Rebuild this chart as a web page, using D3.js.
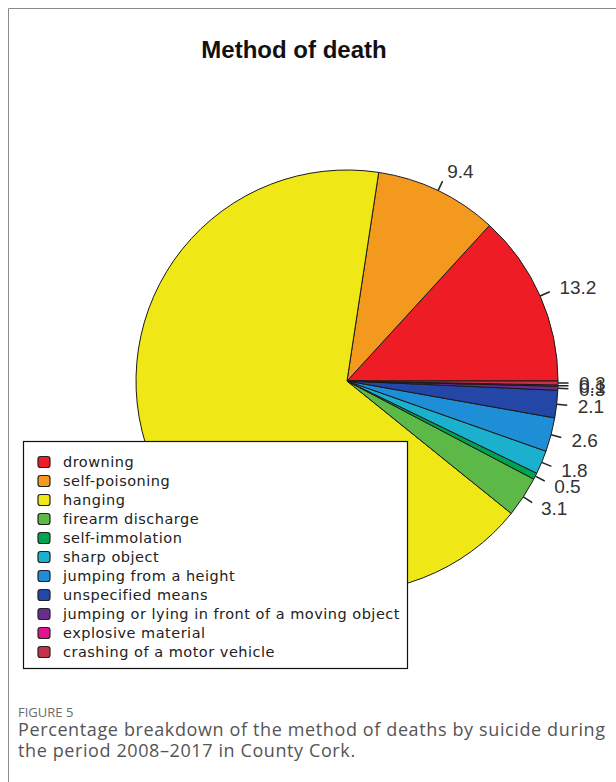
<!DOCTYPE html>
<html>
<head>
<meta charset="utf-8">
<script src="https://cdn.jsdelivr.net/npm/d3@7"></script>
<style>
  body { margin: 0; background: #fff; }
  svg { display: block; }
</style>
</head>
<body>
<svg></svg>
<script>
// slices in drawing order (counter-clockwise from 3 o'clock, like R's pie)
var methods = [
  "drowning",
  "self-poisoning",
  "hanging",
  "firearm discharge",
  "self-immolation",
  "sharp object",
  "jumping from a height",
  "unspecified means",
  "jumping or lying in front of a moving object",
  "explosive material",
  "crashing of a motor vehicle"
];
var percents = [13.2, 9.4, 66.6, 3.1, 0.5, 1.8, 2.6, 2.1, 0.3, 0.1, 0.3];
var colours = [
  "#ee1c25", "#f39a1e", "#f0e716", "#5db947", "#00a34f", "#1bb0ce",
  "#1e8fd6", "#2446a7", "#6b2c91", "#e0148c", "#c8304a"
];

var width = 616;
var height = 782;

var svg = d3.select("svg")
  .attr("width", width)
  .attr("height", height);

// figure frame (left and top edges only)
svg.append("path")
  .attr("d", "M8.5,782 V8.5 H616")
  .attr("fill", "none")
  .attr("stroke", "#8a8a8a")
  .attr("stroke-width", 1);

svg.append("text")
  .attr("x", 294)
  .attr("y", 58)
  .attr("text-anchor", "middle")
  .attr("font-family", "Liberation Sans, Arial, sans-serif")
  .attr("font-weight", "bold")
  .attr("font-size", 24)
  .attr("fill", "#111")
  .text("Method of death");

var cx = 347, cy = 381, radius = 211;

var pie = d3.pie()
  .sort(null)
  .value(function(d) { return d; })
  .startAngle(Math.PI / 2)
  .endAngle(Math.PI / 2 - 2 * Math.PI);

var arcs = pie(percents);

var arc = d3.arc()
  .innerRadius(0)
  .outerRadius(radius);

var g = svg.append("g")
  .attr("transform", "translate(" + cx + "," + cy + ")");

g.selectAll("path.slice")
  .data(arcs)
  .enter()
  .append("path")
  .attr("class", "slice")
  .attr("d", arc)
  .attr("fill", function(d, i) { return colours[i]; })
  .attr("stroke", "#1a1a1a")
  .attr("stroke-width", 1)
  .attr("stroke-linejoin", "round");

// leader ticks and labels, placed as R does (1.0r -> 1.05r, text at 1.1r)
function mid(d) { return (d.startAngle + d.endAngle) / 2; }

// the hanging label falls under the legend box, so only right-side labels show
var shown = arcs.filter(function(d) { return Math.sin(mid(d)) > 0; });

g.selectAll("line.tick")
  .data(shown)
  .enter()
  .append("line")
  .attr("x1", function(d) { return radius * Math.sin(mid(d)); })
  .attr("y1", function(d) { return -radius * Math.cos(mid(d)); })
  .attr("x2", function(d) { return 1.05 * radius * Math.sin(mid(d)); })
  .attr("y2", function(d) { return -1.05 * radius * Math.cos(mid(d)); })
  .attr("stroke", "#222")
  .attr("stroke-width", 1.5);

g.selectAll("text.lab")
  .data(shown)
  .enter()
  .append("text")
  .attr("x", function(d) { return 1.1 * radius * Math.sin(mid(d)); })
  .attr("y", function(d) { return -1.1 * radius * Math.cos(mid(d)); })
  .attr("dy", "0.36em")
  .attr("text-anchor", "start")
  .attr("font-family", "Liberation Sans, Arial, sans-serif")
  .attr("font-size", 19)
  .attr("fill", "#333")
  .text(function(d) { return d.data; });

// legend box sits over the pie
var legend = svg.append("g");

legend.append("rect")
  .attr("x", 23.5)
  .attr("y", 441.5)
  .attr("width", 384)
  .attr("height", 227)
  .attr("fill", "#fff")
  .attr("stroke", "#111")
  .attr("stroke-width", 1.2);

var rowY = d3.scaleLinear()
  .domain([0, methods.length - 1])
  .range([462, 652]);

legend.selectAll("rect.key")
  .data(methods)
  .enter()
  .append("rect")
  .attr("x", 38)
  .attr("y", function(d, i) { return rowY(i) - 5.5; })
  .attr("width", 12)
  .attr("height", 11)
  .attr("rx", 2.5)
  .attr("fill", function(d, i) { return colours[i]; })
  .attr("stroke", "#222")
  .attr("stroke-width", 1.2);

legend.selectAll("text.key")
  .data(methods)
  .enter()
  .append("text")
  .attr("x", 63)
  .attr("y", function(d, i) { return rowY(i); })
  .attr("dy", "0.35em")
  .attr("font-family", "DejaVu Sans, sans-serif")
  .attr("font-size", 14.5)
  .attr("letter-spacing", 0.5)
  .attr("fill", "#222")
  .text(function(d) { return d; });

// caption
svg.append("text")
  .attr("x", 18)
  .attr("y", 717)
  .attr("font-family", "Open Sans, sans-serif")
  .attr("font-size", 13)
  .attr("fill", "#6b6b6b")
  .text("FIGURE 5");

svg.append("text")
  .attr("x", 18)
  .attr("y", 736)
  .attr("font-family", "Open Sans, sans-serif")
  .attr("font-size", 18)
  .attr("fill", "#555")
  .attr("textLength", 587)
  .attr("lengthAdjust", "spacing")
  .text("Percentage breakdown of the method of deaths by suicide during");

svg.append("text")
  .attr("x", 18)
  .attr("y", 757)
  .attr("font-family", "Open Sans, sans-serif")
  .attr("font-size", 18)
  .attr("letter-spacing", 0.6)
  .attr("fill", "#555")
  .text("the period 2008\u20132017 in County Cork.");
</script>
</body>
</html>
